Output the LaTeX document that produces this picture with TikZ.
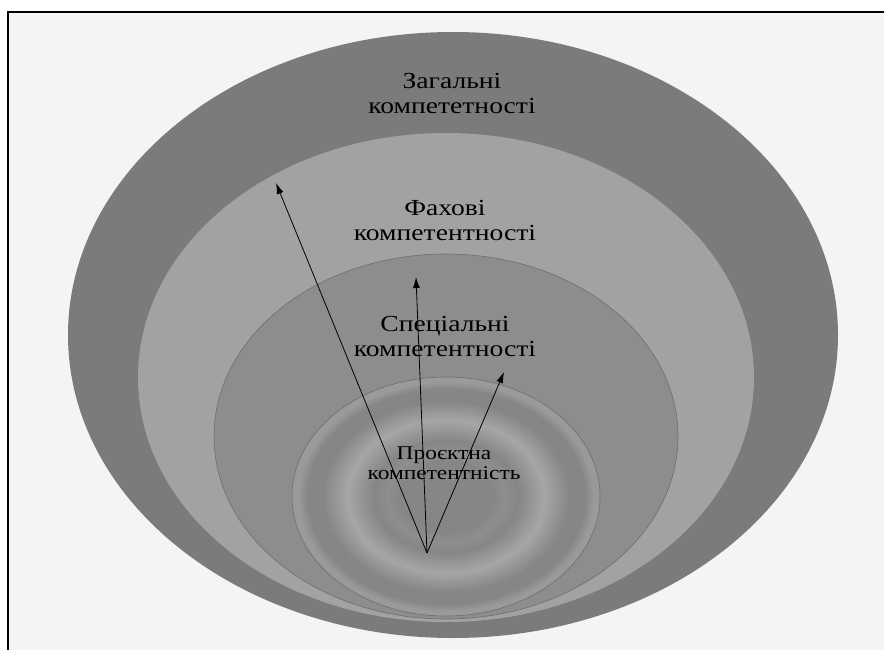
\documentclass[tikz,border=0pt]{standalone}
\usepackage{fontspec}
\setmainfont{Liberation Serif}
\newfontfamily\labelfont[FakeStretch=1.2]{Liberation Serif}
\usetikzlibrary{shapes,arrows.meta}

\definecolor{pagebg}{HTML}{F4F4F4}
\definecolor{zagfill}{HTML}{7B7B7B}
\definecolor{fahfill}{HTML}{A2A2A2}
\definecolor{specfill}{HTML}{8D8D8D}
\definecolor{rimline}{HTML}{6E6E6E}
\definecolor{ringdark}{HTML}{868686}
\definecolor{ringmid}{HTML}{8E8E8E}
\definecolor{ringlight}{HTML}{A6A6A6}
\definecolor{ringedge}{HTML}{9A9A9A}

\pgfdeclareradialshading{rings}{\pgfpoint{0bp}{0bp}}{%
  color(0bp)=(ringdark); color(7.5bp)=(ringdark); color(9.5bp)=(ringmid);
  color(11.75bp)=(ringdark); color(16bp)=(ringlight); color(20bp)=(ringdark);
  color(22.5bp)=(ringdark); color(24bp)=(ringedge); color(25bp)=(ringedge);
  color(50bp)=(ringedge)}

\begin{document}
\begin{tikzpicture}[
  zone/.style={ellipse,inner sep=0pt,outer sep=0pt},
  lbl/.style={align=center,inner sep=0pt,text=black,
    font=\labelfont\fontsize{23bp}{25bp}\selectfont},
  arr/.style={-{Latex[length=11bp,width=7bp]},line width=0.8bp}
]
\useasboundingbox (0bp,0bp) rectangle (884bp,-650bp);
\fill[white] (0bp,0bp) rectangle (884bp,-650bp);
\fill[pagebg] (8bp,-12bp) rectangle (884bp,-650bp);
\draw[line width=2bp] (8bp,-650bp) -- (8bp,-12bp) -- (884bp,-12bp);

% nested zones
\node (zag) at (453bp,-335bp)[zone,fill=zagfill,minimum width=770bp,minimum height=606bp] {};
\node (fah) at (446bp,-377.5bp)[zone,fill=fahfill,minimum width=616bp,minimum height=489bp] {};
\node (spec) at (446bp,-436.5bp)[zone,fill=specfill,draw=rimline,line width=0.6bp,minimum width=464bp,minimum height=365bp] {};
\node (proj) at (446bp,-496.5bp)[zone,shading=rings,draw=rimline,line width=0.6bp,minimum width=308bp,minimum height=239bp] {};

% labels
\node (zagtxt) at (452bp,-93bp)[lbl] {Загальні\\компететності};
\node (fahtxt) at (445bp,-220bp)[lbl] {Фахові\\компетентності};
\node (spectxt) at (445bp,-336bp)[lbl] {Спеціальні\\компетентності};
\node (projtxt) at (444bp,-463bp)[lbl,font=\labelfont\fontsize{19.5bp}{20bp}\selectfont] {Проєктна\\компетентність};

% arrows
\coordinate (root) at (427bp,-553bp);
\coordinate (tipzag) at (276bp,-183bp);
\coordinate (tipfah) at (416bp,-277bp);
\coordinate (tipspec) at (504bp,-372bp);
\draw [arr] (root) -- (tipzag);
\draw [arr] (root) -- (tipfah);
\draw [arr] (root) -- (tipspec);
\end{tikzpicture}
\end{document}
